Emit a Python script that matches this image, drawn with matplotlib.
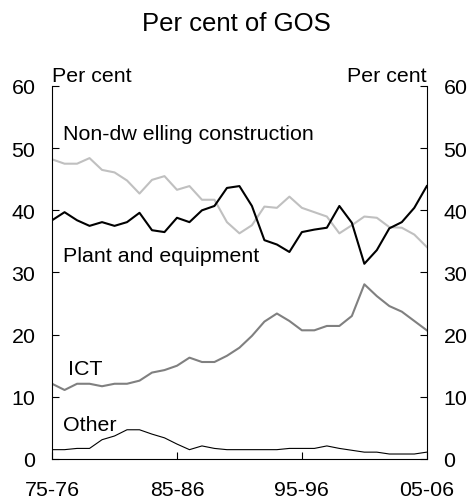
import matplotlib.pyplot as plt

plt.rcParams['font.family'] = ['Liberation Sans', 'DejaVu Sans']

# lata obrachunkowe 1975-76 .. 2005-06
years = list(range(1975, 2006))
tick_labels = ["75-76", "85-86", "95-96", "05-06"]

non_dwelling = [48.2, 47.5, 47.5, 48.4, 46.5, 46.1, 44.8, 42.7, 44.9, 45.5,
                43.3, 43.9, 41.7, 41.7, 38.1, 36.3, 37.6, 40.6, 40.4, 42.2,
                40.4, 39.7, 39.0, 36.3, 37.6, 39.0, 38.8, 37.3, 37.2, 36.1, 34.1]
plant = [38.4, 39.7, 38.4, 37.5, 38.1, 37.5, 38.1, 39.6, 36.8, 36.5,
         38.8, 38.1, 40.0, 40.7, 43.6, 43.9, 40.7, 35.2, 34.5, 33.3,
         36.5, 36.9, 37.2, 40.7, 38.0, 31.4, 33.6, 37.1, 38.1, 40.4, 43.9]
ict = [12.1, 11.1, 12.1, 12.1, 11.7, 12.1, 12.1, 12.6, 13.9, 14.3,
       15.0, 16.3, 15.6, 15.6, 16.6, 17.9, 19.8, 22.1, 23.4, 22.2,
       20.7, 20.7, 21.4, 21.4, 23.0, 28.1, 26.2, 24.6, 23.7, 22.2, 20.7]
other = [1.5, 1.5, 1.7, 1.7, 3.1, 3.7, 4.7, 4.7, 4.0, 3.4,
         2.4, 1.5, 2.1, 1.7, 1.5, 1.5, 1.5, 1.5, 1.5, 1.7,
         1.7, 1.7, 2.1, 1.7, 1.4, 1.1, 1.1, 0.8, 0.8, 0.8, 1.1]

fs = 15.4

fig = plt.figure(figsize=(4.69, 5.02), dpi=100)
ax = fig.add_axes([0.111, 0.0837, 0.799, 0.743])

ax.plot(years, non_dwelling, color="#c0c0c0", lw=1.5)
ax.plot(years, plant, color="black", lw=1.5)
ax.plot(years, ict, color="#808080", lw=1.5)
ax.plot(years, other, color="black", lw=0.8)

ax.set_xlim(1975, 2005)
ax.set_ylim(0, 60)
ax.set_xticks([1975, 1985, 1995, 2005])
ax.set_xticklabels(tick_labels)
ax.set_yticks(range(0, 61, 10))
ax.tick_params(axis="both", direction="in", length=5, labelsize=fs, width=0.8)
ax.tick_params(axis="x", pad=15)
ax.tick_params(axis="y", right=True, labelright=True, pad=12)
ax.spines["top"].set_visible(False)

ax.text(1975.85, 52.3, "Non-dw elling construction", fontsize=fs, va="center")
ax.text(1975.85, 32.8, "Plant and equipment", fontsize=fs, va="center")
ax.text(1976.3, 14.6, "ICT", fontsize=fs, va="center")
ax.text(1975.85, 5.5, "Other", fontsize=fs, va="center")

ax.text(0.0, 1.003, "Per cent", transform=ax.transAxes, fontsize=fs, ha="left", va="bottom")
ax.text(1.0, 1.003, "Per cent", transform=ax.transAxes, fontsize=fs, ha="right", va="bottom")
fig.text(0.505, 0.953, "Per cent of GOS", fontsize=18.5, ha="center", va="center")

plt.savefig("out.png", dpi=100)
